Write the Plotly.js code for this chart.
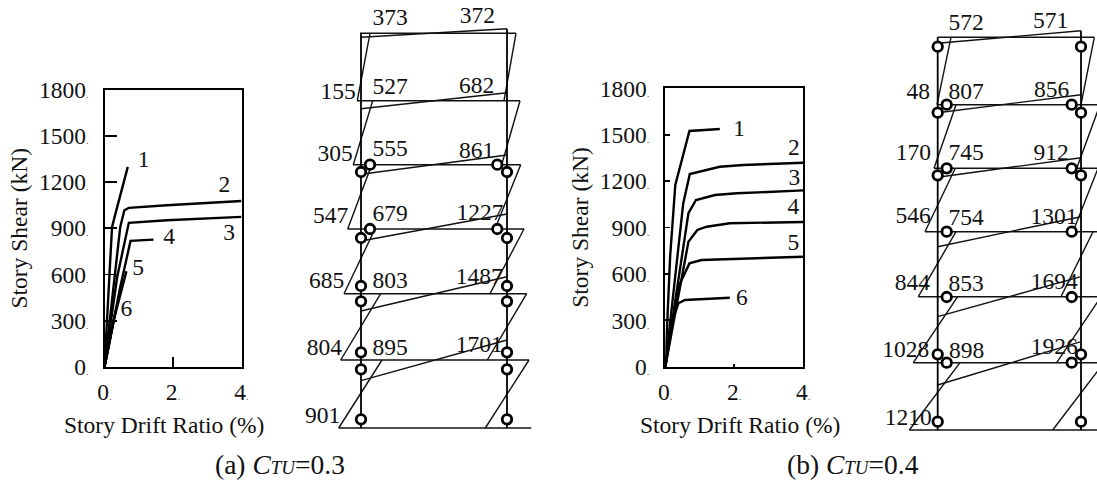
<!DOCTYPE html>
<html><head><meta charset="utf-8">
<script src="https://cdn.plot.ly/plotly-3.0.1.min.js"></script>
<style>html,body{margin:0;padding:0;background:#fff;overflow:hidden}#c{width:1097px;height:481px}</style>
</head><body><div id="c"></div>
<script>
// ---- Story shear vs drift curves, panel (a): C_TU = 0.3
const aCurve1X=[0,0.22,0.32,0.68], aCurve1Y=[0,909,995,1298];
const aCurve2X=[0,0.32,0.46,0.58,0.71,1.82,4], aCurve2Y=[0,627,909,1017,1032,1049,1077];
const aCurve3X=[0,0.37,0.71,1.82,4], aCurve3Y=[0,584,935,952,974];
const aCurve4X=[0,0.46,0.76,1.43], aCurve4Y=[0,519,818,826];
const aCurve5X=[0,0.27,0.64], aCurve5Y=[0,303,621];
const aCurve6X=[0,0.33], aCurve6Y=[0,368];
const aCurveLabels=['1','2','3','4','5','6'];
const aCurveLabelX=[1.14,3.5,3.64,1.89,0.98,0.64], aCurveLabelY=[1337,1175,865,833,632,372];
// ---- panel (b): C_TU = 0.4
const bCurve1X=[0,0.14,0.29,0.70,1.58], bCurve1Y=[0,711,1175,1524,1537];
const bCurve2X=[0,0.52,0.71,1.10,1.58,2.26,4], bCurve2Y=[0,1056,1246,1267,1293,1304,1319];
const bCurve3X=[0,0.67,0.89,1.44,2.07,4], bCurve3Y=[0,992,1078,1110,1121,1140];
const bCurve4X=[0,0.67,0.93,1.20,1.87,4], bCurve4Y=[0,808,884,905,927,936];
const bCurve5X=[0,0.38,0.70,1.05,4], bCurve5Y=[0,517,668,690,711];
const bCurve6X=[0,0.18,0.38,0.57,1.87], bCurve6Y=[0,280,410,431,446];
const bCurveLabels=['1','2','3','4','5','6'];
const bCurveLabelX=[2.14,3.73,3.74,3.71,3.71,2.22], bCurveLabelY=[1530,1408,1214,1024,791,435];
// ---- axis ticks
const shearTicks=[0,300,600,900,1200,1500,1800];
const driftTicks=[0,2,4];
// ---- Frame diagram (a), read in page units
const aColX=[361,507];
const aColTop=[33,29], aColBottom=[428,428];
const aFloorY=[33.3,100.7,164.7,229,293.7,360,428];
const aFloorL=[360,357,353,347.7,344,340.7,338.7];
const aFloorR=[516,520,520.7,524,526.7,529,531.3];
const aLeftSlantTopX=[370,372.7,371.7,375,380.7,382], aLeftSlantBotX=[357.3,353.3,347.7,344,340.7,338.7];
const aRightSlantTopX=[516,520,520.7,524,526.7,529], aRightSlantBotX=[504,501.7,495,490,487.3,485.3];
const aBeamLeftY=[37.3,108.7,174.3,241,311,380.7], aBeamRightY=[28.7,92.7,155,214,276.7,340];
const aHingeX=[361,370,497.3,507,370,497.3,361,507,361,507,361,507,361,507,361,507,361,507];
const aHingeY=[172,164.7,164.7,172,229,229,238,238,286,286,301.3,301.3,352.3,352.3,369.3,369.3,419.3,419.3];
const aText=['373','372','155','527','682','305','555','861','547','679','1227','685','803','1487','804','895','1701','901'];
const aTextX=[390,477.3,338,390,476.7,335,390,476.7,330.7,390,480,326.7,390,479.3,324.3,390,479.3,322.7];
const aTextY=[19,17.3,93,88,86.7,155,150,151.7,217,215,214,282.3,281.7,278.3,349,349,345.7,416.7];
// ---- Frame diagram (b)
const bColX=[937.7,1081];
const bColTop=[37.3,30.7], bColBottom=[430,430];
const bFloorY=[37.3,104.7,168.3,231.7,296.7,362.7,430];
const bFloorL=[937.7,937.7,934,925,918.3,913.3,909.3];
const bFloorR=[1094.3,1097,1097,1097,1097,1097,1097];
const bLeftSlantTopX=[951,956,955.3,956,957.7,960], bLeftSlantBotX=[937,934,925,918.3,913.3,909.3];
const bRightSlantTopX=[1094.3,1100,1098,1093,1101,1104], bRightSlantBotX=[1081,1076.7,1073,1061,1056.7,1052.7];
const bBeamLeftY=[43.3,112.7,177.3,246.7,316.7,385], bBeamRightY=[30.7,94.7,157.7,216.7,276.7,341.7];
const bHingeX=[937.7,1081,946.7,1071.7,937.7,1081,946.7,1071.7,937.7,1081,946.7,1071.7,946.7,1071.7,937.7,1081,946.7,1071.7,937.7,1081];
const bHingeY=[46.7,46.7,104.7,104.7,112.7,112.7,168.3,168.3,175.3,175.3,231.7,231.7,297,297,354.3,354.3,362.7,362.7,421.7,421.7];
const bText=['572','571','48','807','856','170','745','912','546','754','1301','844','853','1694','1028','898','1926','1210'];
const bTextX=[966,1050.7,918.3,966,1051.7,913.3,966,1051,913,966,1054,912.3,966,1054.3,905.7,966.7,1054.3,908.3];
const bTextY=[24,22.3,93.3,93.3,90.7,154.3,154.3,154.3,217.3,219,217.7,284.3,285,282.7,351,351.7,348.3,419.3];
// ---- text
const xTitle='Story Drift Ratio (%)', yTitle='Story Shear (kN)';
const capA='(a) <i>C<span style="font-size:19px">TU</span></i>=0.3', capB='(b) <i>C<span style="font-size:19px">TU</span></i>=0.4';

const FONT='"Liberation Serif","Times New Roman",serif', SZ=23.5;
const W=1097,H=481;
const font={family:FONT,size:SZ,color:'#111'};
const capFont={family:FONT,size:27.5,color:'#111'};
const traces=[];
function curves(list,xa,ya){list.forEach(([x,y])=>traces.push({x,y,xaxis:xa,yaxis:ya,mode:'lines',hoverinfo:'skip',showlegend:false,line:{color:'#000',width:2.4}}));}
curves([[aCurve1X,aCurve1Y],[aCurve2X,aCurve2Y],[aCurve3X,aCurve3Y],[aCurve4X,aCurve4Y],[aCurve5X,aCurve5Y],[aCurve6X,aCurve6Y]],'x','y');
curves([[bCurve1X,bCurve1Y],[bCurve2X,bCurve2Y],[bCurve3X,bCurve3Y],[bCurve4X,bCurve4Y],[bCurve5X,bCurve5Y],[bCurve6X,bCurve6Y]],'x2','y2');
traces.push({x:aCurveLabelX,y:aCurveLabelY,text:aCurveLabels,xaxis:'x',yaxis:'y',mode:'text',textposition:'middle center',textfont:font,showlegend:false,hoverinfo:'skip'});
traces.push({x:bCurveLabelX,y:bCurveLabelY,text:bCurveLabels,xaxis:'x2',yaxis:'y2',mode:'text',textposition:'middle center',textfont:font,showlegend:false,hoverinfo:'skip'});

function frame(f){
  const xs=[],ys=[];
  const seg=(x1,y1,x2,y2)=>{xs.push(x1,x2,null);ys.push(y1,y2,null);};
  f.floorY.forEach((y,i)=>seg(f.floorL[i],y,f.floorR[i],y));
  f.ltop.forEach((x,i)=>{seg(f.lbot[i],f.floorY[i+1],x,f.floorY[i]);seg(f.rbot[i],f.floorY[i+1],f.rtop[i],f.floorY[i]);});
  f.bl.forEach((y,i)=>seg(f.colX[0],y,f.colX[1],f.br[i]));
  traces.push({x:xs,y:ys,xaxis:'x3',yaxis:'y3',mode:'lines',line:{color:'#111',width:1.4},showlegend:false,hoverinfo:'skip'});
  const cx=[],cy=[];
  f.colX.forEach((x,i)=>{cx.push(x,x,null);cy.push(f.colTop[i],f.colBot[i],null);});
  traces.push({x:cx,y:cy,xaxis:'x3',yaxis:'y3',mode:'lines',line:{color:'#000',width:1.8},showlegend:false,hoverinfo:'skip'});
  traces.push({x:f.hx,y:f.hy,xaxis:'x3',yaxis:'y3',mode:'markers',marker:{symbol:'circle',size:9.5,color:'#fff',line:{color:'#000',width:2.8}},showlegend:false,hoverinfo:'skip'});
  traces.push({x:f.tx,y:f.ty,text:f.t,xaxis:'x3',yaxis:'y3',mode:'text',textposition:'middle center',textfont:font,showlegend:false,hoverinfo:'skip'});
}
frame({colX:aColX,colTop:aColTop,colBot:aColBottom,floorY:aFloorY,floorL:aFloorL,floorR:aFloorR,ltop:aLeftSlantTopX,lbot:aLeftSlantBotX,rtop:aRightSlantTopX,rbot:aRightSlantBotX,bl:aBeamLeftY,br:aBeamRightY,hx:aHingeX,hy:aHingeY,t:aText,tx:aTextX,ty:aTextY});
frame({colX:bColX,colTop:bColTop,colBot:bColBottom,floorY:bFloorY,floorL:bFloorL,floorR:bFloorR,ltop:bLeftSlantTopX,lbot:bLeftSlantBotX,rtop:bRightSlantTopX,rbot:bRightSlantBotX,bl:bBeamLeftY,br:bBeamRightY,hx:bHingeX,hy:bHingeY,t:bText,tx:bTextX,ty:bTextY});

const dot=v=>v+'<span style="font-size:11px;color:#666">.</span>';
function xax(l,r,tlen){return {domain:[l/W,r/W],range:[0,4],showgrid:false,zeroline:false,showline:true,mirror:true,linecolor:'#000',linewidth:2,ticks:'inside',ticklen:tlen,tickwidth:1.6,tickcolor:'#000',tickmode:'array',tickvals:driftTicks,ticktext:driftTicks.map(dot),tickfont:font,ticklabelstandoff:3};}
function yax(t,b,tlen,stand){return {domain:[1-b/H,1-t/H],range:[0,1800],showgrid:false,zeroline:false,showline:true,mirror:true,linecolor:'#000',linewidth:2,ticks:'inside',ticklen:tlen,tickwidth:1.6,tickcolor:'#000',tickmode:'array',tickvals:shearTicks,ticktext:shearTicks.map(dot),tickfont:font,ticklabelstandoff:9,title:{text:yTitle,font,standoff:stand}};}
const layout={width:W,height:H,margin:{l:0,r:0,t:0,b:0},paper_bgcolor:'#fff',plot_bgcolor:'rgba(0,0,0,0)',showlegend:false,
  xaxis:xax(104.5,241.5,10),
  yaxis:Object.assign(yax(89.5,367,12,5),{anchor:'x'}),
  xaxis2:Object.assign(xax(665.3,803.3,3),{anchor:'y2'}),
  yaxis2:Object.assign(yax(88.3,366.7,5,5),{anchor:'x2'}),
  xaxis3:{domain:[0,1],range:[0,W],visible:false,anchor:'y3',fixedrange:true},
  yaxis3:{domain:[0,1],range:[H,0],visible:false,anchor:'x3',fixedrange:true},
  annotations:[
   {xref:'x3',yref:'y3',x:164,y:425,text:xTitle,showarrow:false,font},
   {xref:'x3',yref:'y3',x:740,y:425,text:xTitle,showarrow:false,font},
   {xref:'x3',yref:'y3',x:279.5,y:464,text:capA,showarrow:false,font:capFont},
   {xref:'x3',yref:'y3',x:853,y:464,text:capB,showarrow:false,font:capFont}
  ]};
Plotly.newPlot('c',traces,layout,{displayModeBar:false,staticPlot:true});
</script></body></html>
